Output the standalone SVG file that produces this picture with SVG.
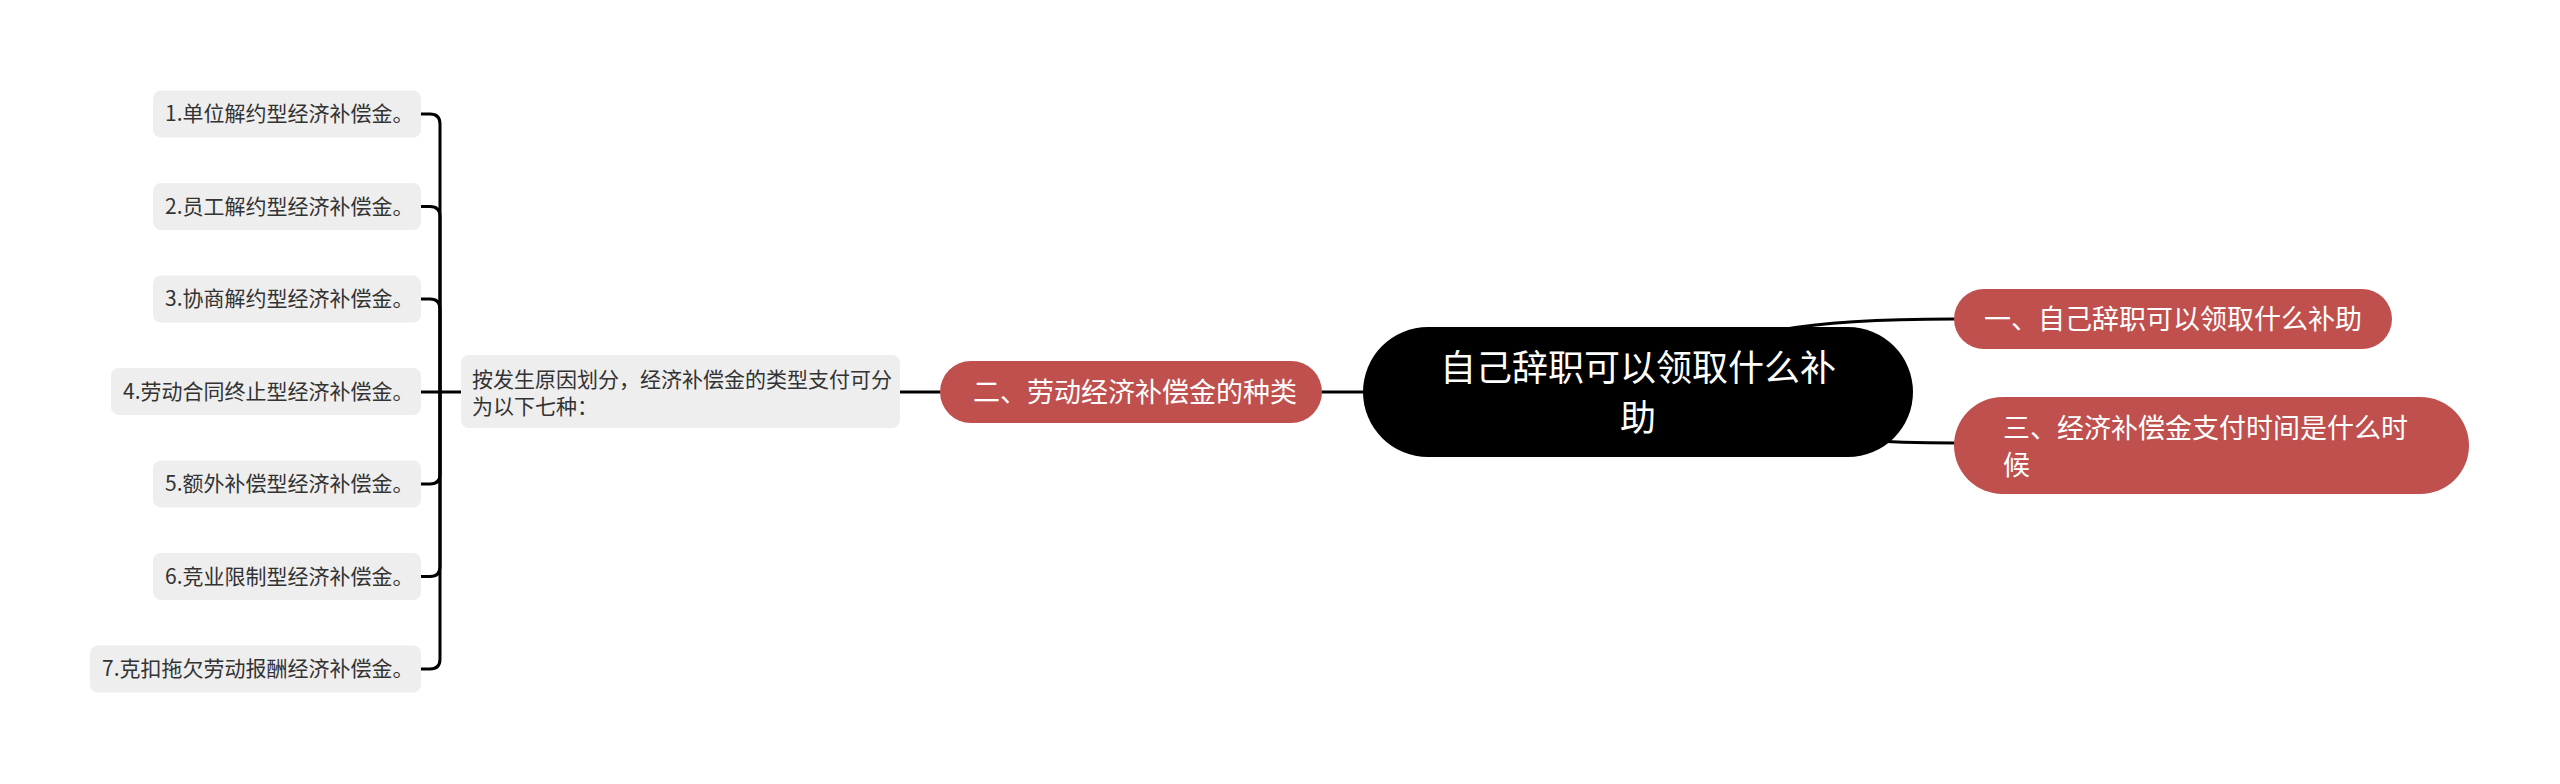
<svg xmlns="http://www.w3.org/2000/svg" width="2560" height="784" viewBox="0 0 2560 784">
<style>
.t{font-family:"Noto Sans CJK SC","Noto Sans",sans-serif}
.leaf rect{fill:#eeeeee}
.leaf text{font-size:21px;fill:#333333}
.red rect{fill:#c0504d}
.red text{font-size:27px;fill:#ffffff}
.root rect{fill:#000000}
.root text{font-size:36px;fill:#ffffff}
.mid rect{fill:#eeeeee}
.mid text{font-size:21px;fill:#333333}
#connectors path{fill:none;stroke:#000000;stroke-width:3;stroke-linecap:round}
</style>
<rect width="2560" height="784" fill="#ffffff"/>
<g id="connectors">
<path d="M440,392 V124 Q440,114 430,114 H421"/>
<path d="M440,392 V216.5 Q440,206.5 430,206.5 H421"/>
<path d="M440,392 V309 Q440,299 430,299 H421"/>
<path d="M461,392 H421"/>
<path d="M440,392 V474 Q440,484 430,484 H421"/>
<path d="M440,392 V566.5 Q440,576.5 430,576.5 H421"/>
<path d="M440,392 V659 Q440,669 430,669 H421"/>
<path d="M900,392 H940"/>
<path d="M1322,392 H1365"/>
<path d="M1780,330 Q1840,319 1954,319"/>
<path d="M1860,440 Q1900,443 1954,443"/>
</g>
<g id="leaf1" class="leaf t"><rect x="153" y="90.5" width="268" height="47" rx="8"/><text x="165" y="121">1.单位解约型经济补偿金。</text></g>
<g id="leaf2" class="leaf t"><rect x="153" y="183" width="268" height="47" rx="8"/><text x="165" y="213.5">2.员工解约型经济补偿金。</text></g>
<g id="leaf3" class="leaf t"><rect x="153" y="275.5" width="268" height="47" rx="8"/><text x="165" y="306">3.协商解约型经济补偿金。</text></g>
<g id="leaf4" class="leaf t"><rect x="111" y="368" width="310" height="47" rx="8"/><text x="123" y="398.5">4.劳动合同终止型经济补偿金。</text></g>
<g id="leaf5" class="leaf t"><rect x="153" y="460.5" width="268" height="47" rx="8"/><text x="165" y="491">5.额外补偿型经济补偿金。</text></g>
<g id="leaf6" class="leaf t"><rect x="153" y="553" width="268" height="47" rx="8"/><text x="165" y="583.5">6.竞业限制型经济补偿金。</text></g>
<g id="leaf7" class="leaf t"><rect x="90" y="645.5" width="331" height="47" rx="8"/><text x="102" y="676">7.克扣拖欠劳动报酬经济补偿金。</text></g>
<g id="mid" class="mid t"><rect x="461" y="355" width="439" height="73" rx="8"/><text x="472" y="387">按发生原因划分，经济补偿金的类型支付可分</text><text x="472" y="414">为以下七种：</text></g>
<g id="branch2" class="red t"><rect x="940" y="361" width="382" height="62" rx="31"/><text x="973" y="402">二、劳动经济补偿金的种类</text></g>
<g id="root" class="root t"><rect x="1363" y="327" width="550" height="130" rx="65"/><text x="1638" y="381" text-anchor="middle">自己辞职可以领取什么补</text><text x="1638" y="431" text-anchor="middle">助</text></g>
<g id="branch1" class="red t"><rect x="1954" y="289" width="438" height="60" rx="30"/><text x="1984" y="329">一、自己辞职可以领取什么补助</text></g>
<g id="branch3" class="red t"><rect x="1954" y="397" width="515" height="97" rx="48.5"/><text x="2003" y="438">三、经济补偿金支付时间是什么时</text><text x="2003" y="475">候</text></g>
</svg>
